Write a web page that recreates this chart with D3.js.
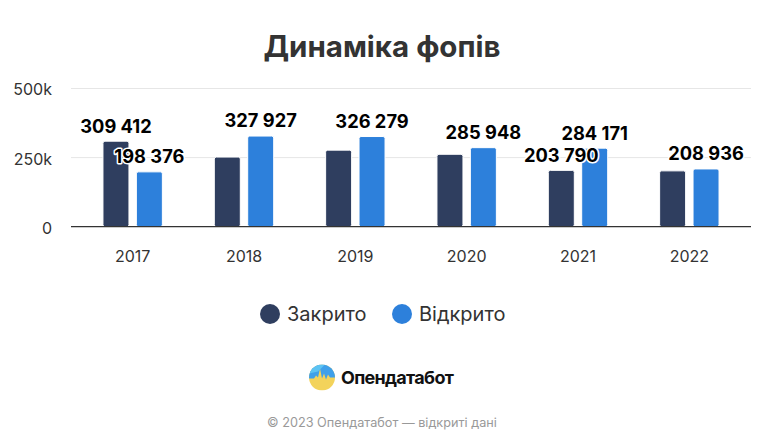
<!DOCTYPE html>
<html lang="uk">
<head>
    <meta charset="UTF-8">
    <title>Динаміка фопів</title>
    <script src="https://d3js.org/d3.v7.min.js"></script>
    <style>
        html, body { margin: 0; padding: 0; background: #fff; }
        svg { display: block; font-family: Inter, "Noto Sans", sans-serif; }
    </style>
</head>
<body>
<div id="chart"></div>
<script>
    // data
    const years = ["2017", "2018", "2019", "2020", "2021", "2022"];
    const closed = [309412, 252000, 277000, 262000, 203790, 202000];
    const opened = [198376, 327927, 326279, 285948, 284171, 208936];
    const closedLabelShown = [true, false, false, false, true, false];
    const openedLabelShown = [true, true, true, true, true, true];
    const yTicks = [0, 250000, 500000];
    const seriesNames = ["Закрито", "Відкрито"];
    const seriesColors = ["#2f3e5f", "#2d80db"];

    const width = 764, height = 446;
    const svg = d3.select("#chart").append("svg")
        .attr("width", width)
        .attr("height", height);

    svg.append("text")
        .attr("x", width / 2)
        .attr("y", 57)
        .attr("text-anchor", "middle")
        .style("font-size", "29.5px")
        .style("font-weight", "700")
        .style("fill", "#333")
        .text("Динаміка фопів");

    const plotLeft = 71, plotRight = 751, baseY = 226.7, topY = 88.5;

    const x = d3.scaleBand().domain(years).range([77, 745]);
    const y = d3.scaleLinear().domain([0, 500000]).range([baseY, topY]);
    const barW = 26, barOff = 16.7;

    // gridlines
    svg.append("g").selectAll("line")
        .data(yTicks.filter(d => d !== 0))
        .enter().append("line")
        .attr("x1", plotLeft).attr("x2", plotRight)
        .attr("y1", d => y(d)).attr("y2", d => y(d))
        .style("stroke", "#e6e6e6")
        .style("stroke-width", 1);

    const yAxis = svg.append("g")
        .attr("transform", `translate(52,0)`)
        .call(d3.axisLeft(y).tickValues(yTicks).tickSize(0).tickPadding(0)
            .tickFormat(d => d === 0 ? "0" : d3.format("~s")(d)));
    yAxis.select(".domain").remove();
    yAxis.selectAll("text")
        .attr("dy", "0.4em")
        .style("font-size", "16px")
        .style("fill", "#333")
        .style("font-family", "Inter, sans-serif");

    const xAxis = svg.append("g")
        .attr("transform", `translate(0,${baseY})`)
        .call(d3.axisBottom(x).tickSize(0).tickPadding(24));
    xAxis.select(".domain").remove();
    xAxis.selectAll("text")
        .style("font-size", "16px")
        .style("fill", "#333")
        .style("font-family", "Inter, sans-serif");

    const series = [
        {name: seriesNames[0], values: closed, shown: closedLabelShown, color: seriesColors[0], dx: -barOff},
        {name: seriesNames[1], values: opened, shown: openedLabelShown, color: seriesColors[1], dx: barOff}
    ];

    const fmt = v => d3.format(",")(v).replace(/,/g, " ");

    series.forEach(s => {
        svg.append("g").selectAll("rect")
            .data(s.values)
            .enter().append("rect")
            .attr("x", (d, i) => x(years[i]) + x.bandwidth() / 2 + s.dx - barW / 2)
            .attr("y", d => y(d))
            .attr("width", barW)
            .attr("height", d => baseY - y(d))
            .attr("rx", 2)
            .style("fill", s.color)
            .style("stroke", "#fff")
            .style("stroke-width", 1);
    });

    // line at zero
    svg.append("line")
        .attr("x1", plotLeft).attr("x2", plotRight)
        .attr("y1", baseY).attr("y2", baseY)
        .style("stroke", "#333")
        .style("stroke-width", 1.3);

    series.forEach(s => {
        svg.append("g").selectAll("text")
            .data(s.values.map((v, i) => ({v, i})).filter(d => s.shown[d.i]))
            .enter().append("text")
            .attr("x", d => x(years[d.i]) + x.bandwidth() / 2 + s.dx)
            .attr("y", d => y(d.v) - 15)
            .attr("dy", "0.35em")
            .attr("text-anchor", "middle")
            .style("font-size", "18.3px")
            .style("font-weight", "700")
            .style("fill", "#000")
            .style("stroke", "#fff")
            .style("stroke-width", 3)
            .style("stroke-linejoin", "round")
            .style("paint-order", "stroke")
            .text(d => fmt(d.v));
    });

    // legend
    const legend = svg.append("g");
    const legendX = [270, 402];
    seriesNames.forEach((n, i) => {
        legend.append("circle")
            .attr("cx", legendX[i]).attr("cy", 314).attr("r", 10)
            .style("fill", seriesColors[i]);
        legend.append("text")
            .attr("x", legendX[i] + 17).attr("y", 314)
            .attr("dy", "0.35em")
            .style("font-size", "20px")
            .style("fill", "#333")
            .text(n);
    });

    // logo
    const logo = svg.append("g").attr("transform", "translate(322,377.5)");
    logo.append("clipPath").attr("id", "lc")
        .append("circle").attr("r", 13);
    const lg = logo.append("g").attr("clip-path", "url(#lc)");
    lg.append("rect").attr("x", -13).attr("y", -13).attr("width", 26).attr("height", 26)
        .style("fill", "#f3d35b");
    lg.append("path")
        .attr("d", "M-13,-13 H13 V0 L8,0 L6,-3 L4,2 L2,-4 L0,1 L-2,-9 L-4,0 L-6,-2 L-8,1 L-13,1 Z")
        .style("fill", "#3fa0ea");
    lg.append("path")
        .attr("d", "M-13,-13 H3 L-4,-6 L-13,-4 Z")
        .style("fill", "#5cc3f3");
    svg.append("text")
        .attr("x", 341).attr("y", 378)
        .attr("dy", "0.35em")
        .style("font-size", "18px")
        .style("font-weight", "700")
        .style("letter-spacing", "-0.7px")
        .style("fill", "#111")
        .text("Опендатабот");

    svg.append("text")
        .attr("x", width / 2).attr("y", 423)
        .attr("dy", "0.35em")
        .attr("text-anchor", "middle")
        .style("font-size", "12.7px")
        .style("fill", "#999")
        .text("© 2023 Опендатабот — відкриті дані");
</script>
</body>
</html>
